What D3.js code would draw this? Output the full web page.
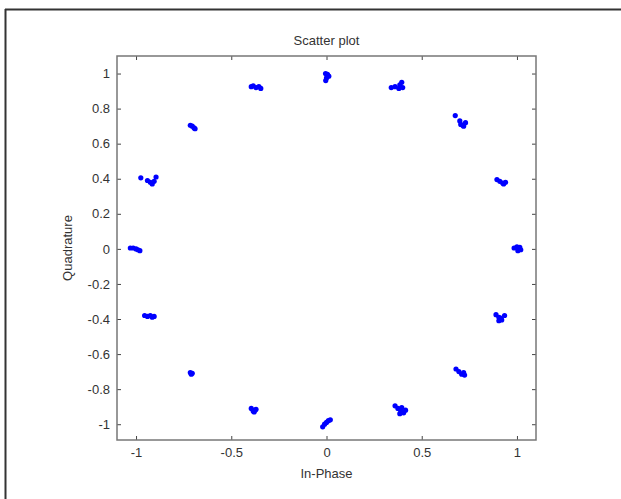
<!DOCTYPE html>
<html>
<head>
<meta charset="utf-8">
<script src="https://cdn.jsdelivr.net/npm/d3@7"></script>
<style>
  html, body { margin: 0; padding: 0; background: #fff; }
  svg { display: block; }
  text { font-family: "Liberation Sans", Arial, Helvetica, sans-serif; fill: #333; }
</style>
</head>
<body>
<svg id="chart" width="621" height="499"></svg>
<script>
// ---- data ----
const title = "Scatter plot";
const xLabel = "In-Phase";
const yLabel = "Quadrature";
const xTicks = [-1, -0.5, 0, 0.5, 1];
const yTicks = [-1, -0.8, -0.6, -0.4, -0.2, 0, 0.2, 0.4, 0.6, 0.8, 1];
const xDomain = [-1.1, 1.1];
const yDomain = [-1.09, 1.1];

// received symbols: in-phase and quadrature components
const inPhase = [
  // (0, 1)
  -0.005, 0.005, 0.012, 0.0, -0.004,
  // (0.38, 0.92)
  0.34, 0.36, 0.385, 0.395, 0.40, 0.38,
  // (0.71, 0.71)
  0.676, 0.70, 0.715, 0.73, 0.72, 0.705,
  // (0.92, 0.38)
  0.895, 0.91, 0.925, 0.94, 0.93,
  // (1, 0)
  0.985, 1.0, 1.015, 1.02, 1.005,
  // (0.92, -0.38)
  0.89, 0.905, 0.92, 0.935, 0.915, 0.905,
  // (0.71, -0.71)
  0.68, 0.695, 0.71, 0.725, 0.72,
  // (0.38, -0.92)
  0.36, 0.375, 0.39, 0.405, 0.415, 0.385, 0.395,
  // (0, -1)
  -0.02, -0.01, 0.0, 0.01, 0.02,
  // (-0.38, -0.92)
  -0.395, -0.385, -0.375, -0.38, -0.37,
  // (-0.71, -0.71)
  -0.715, -0.705, -0.71,
  // (-0.92, -0.38)
  -0.955, -0.94, -0.925, -0.915, -0.905,
  // (-1, 0)
  -1.03, -1.015, -1.0, -0.99, -0.98,
  // (-0.92, 0.38)
  -0.975, -0.94, -0.925, -0.915, -0.905, -0.895,
  // (-0.71, 0.71)
  -0.715, -0.705, -0.695, -0.69,
  // (-0.38, 0.92)
  -0.395, -0.385, -0.37, -0.355, -0.345
];
const quadrature = [
  // (0, 1)
  1.0, 0.995, 0.985, 0.975, 0.96,
  // (0.38, 0.92)
  0.92, 0.925, 0.935, 0.95, 0.92, 0.915,
  // (0.71, 0.71)
  0.76, 0.73, 0.705, 0.72, 0.70, 0.71,
  // (0.92, 0.38)
  0.395, 0.385, 0.375, 0.38, 0.37,
  // (1, 0)
  0.005, 0.012, 0.008, -0.005, -0.01,
  // (0.92, -0.38)
  -0.375, -0.39, -0.405, -0.38, -0.395, -0.41,
  // (0.71, -0.71)
  -0.685, -0.70, -0.715, -0.72, -0.705,
  // (0.38, -0.92)
  -0.895, -0.91, -0.925, -0.935, -0.92, -0.94, -0.905,
  // (0, -1)
  -1.015, -1.0, -0.99, -0.98, -0.975,
  // (-0.38, -0.92)
  -0.91, -0.925, -0.92, -0.93, -0.915,
  // (-0.71, -0.71)
  -0.705, -0.71, -0.715,
  // (-0.92, -0.38)
  -0.38, -0.385, -0.38, -0.39, -0.385,
  // (-1, 0)
  0.005, 0.005, 0.0, -0.005, -0.01,
  // (-0.92, 0.38)
  0.405, 0.39, 0.38, 0.37, 0.385, 0.41,
  // (-0.71, 0.71)
  0.705, 0.70, 0.69, 0.685,
  // (-0.38, 0.92)
  0.925, 0.93, 0.92, 0.925, 0.915
];

// ---- layout ----
const svg = d3.select("#chart");
const W = 621, H = 499;
const plot = { left: 117, right: 536, top: 56, bottom: 440 };

// outer figure frame (top and left edges)
svg.append("line").attr("x1", 5).attr("y1", 9.5).attr("x2", W).attr("y2", 9.5)
  .attr("stroke", "#333").attr("stroke-width", 2);
svg.append("line").attr("x1", 5.5).attr("y1", 9).attr("x2", 5.5).attr("y2", H)
  .attr("stroke", "#333").attr("stroke-width", 2);

const x = d3.scaleLinear().domain(xDomain).range([plot.left, plot.right]);
const y = d3.scaleLinear().domain(yDomain).range([plot.bottom, plot.top]);

const axisColor = "#777";
const tickLen = 4;
const fmt = d => (d === 0 ? "0" : String(d).replace(/^(-?)0\./, "$10."));

// axes: bottom/left with labels, top/right mirrored ticks
const gx = svg.append("g").attr("transform", `translate(0,${plot.bottom})`)
  .call(d3.axisBottom(x).tickValues(xTicks).tickSize(-tickLen).tickPadding(8).tickFormat(fmt));
const gxTop = svg.append("g").attr("transform", `translate(0,${plot.top})`)
  .call(d3.axisTop(x).tickValues(xTicks).tickSize(-tickLen).tickFormat(""));
const gy = svg.append("g").attr("transform", `translate(${plot.left},0)`)
  .call(d3.axisLeft(y).tickValues(yTicks).tickSize(-tickLen).tickPadding(7).tickFormat(fmt));
const gyRight = svg.append("g").attr("transform", `translate(${plot.right},0)`)
  .call(d3.axisRight(y).tickValues(yTicks).tickSize(-tickLen).tickFormat(""));

[gx, gxTop, gy, gyRight].forEach(g => {
  g.select(".domain").remove();
  g.selectAll(".tick line").attr("stroke", "#444").attr("stroke-width", 1);
  g.selectAll(".tick text").attr("fill", "#333").style("font-size", "13px")
    .style("font-family", '"Liberation Sans", Arial, sans-serif');
});

// box
svg.append("rect")
  .attr("x", plot.left).attr("y", plot.top)
  .attr("width", plot.right - plot.left).attr("height", plot.bottom - plot.top)
  .attr("fill", "none").attr("stroke", axisColor).attr("stroke-width", 1.5);

// points
const pts = inPhase.map((v, i) => ({ i: v, q: quadrature[i] }));
svg.append("g").selectAll("circle").data(pts).join("circle")
  .attr("cx", d => x(d.i)).attr("cy", d => y(d.q)).attr("r", 2.6)
  .attr("fill", "#0000ff");

// title & labels
svg.append("text").attr("x", (plot.left + plot.right) / 2).attr("y", 45)
  .attr("text-anchor", "middle").style("font-size", "13px").text(title);
svg.append("text").attr("x", (plot.left + plot.right) / 2).attr("y", 478)
  .attr("text-anchor", "middle").style("font-size", "13px").text(xLabel);
svg.append("text")
  .attr("transform", `translate(72,${(plot.top + plot.bottom) / 2}) rotate(-90)`)
  .attr("text-anchor", "middle").style("font-size", "13px").text(yLabel);
</script>
</body>
</html>
